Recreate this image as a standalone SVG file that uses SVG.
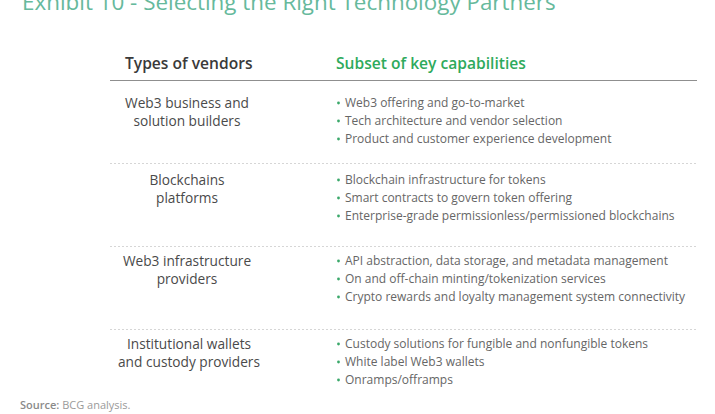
<svg xmlns="http://www.w3.org/2000/svg" width="715" height="414" viewBox="0 0 715 414">
<style>
text{font-family:"Open Sans","Noto Sans","Liberation Sans",sans-serif}
.title{font-size:22.4px;fill:#66b99c}
.hv{font-size:15.6px;font-weight:600;fill:#3a3a3a}
.hc{font-size:15.6px;font-weight:600;fill:#2eaa5c}
.vt{font-size:13.7px;fill:#4a4a4a;text-anchor:middle}
.cap{font-size:12px;fill:#666}
.dot{fill:#3aa86a}
.sep{stroke:#d6d6d6;stroke-width:1;stroke-dasharray:2 2}
.src{font-size:11px;fill:#9a9a9a}
</style>
<rect width="715" height="414" fill="#ffffff"/>
<text class="title" x="22" y="10">Exhibit 10 - Selecting the Right Technology Partners</text>
<g id="header">
<text class="hv" x="125" y="69">Types of vendors</text>
<text class="hc" x="336" y="69">Subset of key capabilities</text>
<line x1="110" y1="80.5" x2="697" y2="80.5" stroke="#8f8f8f" stroke-width="1.2"/>
</g>
<g id="connectors">
<line class="sep" x1="110" y1="163.5" x2="697" y2="163.5"/>
<line class="sep" x1="110" y1="246.5" x2="697" y2="246.5"/>
<line class="sep" x1="110" y1="329.5" x2="697" y2="329.5"/>
</g>
<g id="row1">
<text class="vt" x="187" y="108">Web3 business and</text>
<text class="vt" x="187" y="126">solution builders</text>
<circle class="dot" cx="338.5" cy="103" r="1.4"/>
<circle class="dot" cx="338.5" cy="121" r="1.4"/>
<circle class="dot" cx="338.5" cy="139" r="1.4"/>
<text class="cap" x="345" y="107">Web3 offering and go-to-market</text>
<text class="cap" x="345" y="125">Tech architecture and vendor selection</text>
<text class="cap" x="345" y="143">Product and customer experience development</text>
</g>
<g id="row2">
<text class="vt" x="187" y="185">Blockchains</text>
<text class="vt" x="187" y="203">platforms</text>
<circle class="dot" cx="338.5" cy="180" r="1.4"/>
<circle class="dot" cx="338.5" cy="198" r="1.4"/>
<circle class="dot" cx="338.5" cy="216" r="1.4"/>
<text class="cap" x="345" y="184">Blockchain infrastructure for tokens</text>
<text class="cap" x="345" y="202">Smart contracts to govern token offering</text>
<text class="cap" x="345" y="220">Enterprise-grade permissionless/permissioned blockchains</text>
</g>
<g id="row3">
<text class="vt" x="187" y="266">Web3 infrastructure</text>
<text class="vt" x="187" y="284">providers</text>
<circle class="dot" cx="338.5" cy="261" r="1.4"/>
<circle class="dot" cx="338.5" cy="279" r="1.4"/>
<circle class="dot" cx="338.5" cy="297" r="1.4"/>
<text class="cap" x="345" y="265">API abstraction, data storage, and metadata management</text>
<text class="cap" x="345" y="283">On and off-chain minting/tokenization services</text>
<text class="cap" x="345" y="301">Crypto rewards and loyalty management system connectivity</text>
</g>
<g id="row4">
<text class="vt" x="189" y="349">Institutional wallets</text>
<text class="vt" x="189" y="367">and custody providers</text>
<circle class="dot" cx="338.5" cy="344" r="1.4"/>
<circle class="dot" cx="338.5" cy="362" r="1.4"/>
<circle class="dot" cx="338.5" cy="380" r="1.4"/>
<text class="cap" x="345" y="348">Custody solutions for fungible and nonfungible tokens</text>
<text class="cap" x="345" y="366">White label Web3 wallets</text>
<text class="cap" x="345" y="384">Onramps/offramps</text>
</g>
<text class="src" x="20" y="409"><tspan font-weight="600" fill="#8a8a8a">Source:</tspan> BCG analysis.</text>
</svg>
